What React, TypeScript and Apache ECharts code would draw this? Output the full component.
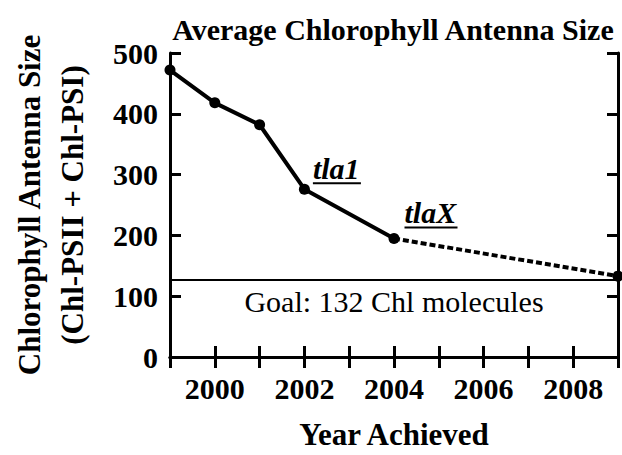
import React, { useEffect, useRef } from "react";
import * as echarts from "echarts";

const titleText = "Average Chlorophyll Antenna Size";
const yAxisTitle = "Chlorophyll Antenna Size\n(Chl-PSII + Chl-PSI)";
const xAxisTitle = "Year Achieved";
const achievedYears = [1999, 2000, 2001, 2002, 2004];
const achievedSizes = [472, 418, 382, 276, 195];
const projectedYears = [2004, 2009];
const projectedSizes = [195, 133];
const goalValue = 127;
const goalLabel = "Goal: 132 Chl molecules";
const pointNames: Record<number, string> = { 2002: "tla1", 2004: "tlaX" };
const xMin = 1999;
const xMax = 2009;
const yMin = 0;
const yMax = 500;

const FONT = "'Liberation Serif', 'Times New Roman', serif";

export default function App() {
  const ref = useRef<HTMLDivElement>(null);
  useEffect(() => {
    if (!ref.current) return;
    const chart = echarts.init(ref.current, null, { renderer: "svg" });

    const labelStyle: Record<string, any> = {
      tla1: { pos: [14, 1], w: 48 },
      tlaX: { pos: [16, -4], w: 53 },
    };

    const solidData = achievedYears.map((y, i) => {
      const name = pointNames[y];
      const item: any = { value: [y, achievedSizes[i]] };
      if (name) {
        const st = labelStyle[name];
        item.label = {
          show: true,
          position: st.pos,
          align: "left",
          verticalAlign: "bottom",
          formatter: `{t|${name}}\n{u|}`,
          rich: {
            t: {
              fontFamily: FONT,
              fontSize: 30,
              fontWeight: "bold",
              fontStyle: "italic",
              color: "#000",
              lineHeight: 26,
            },
            u: { width: st.w, height: 2, backgroundColor: "#000", lineHeight: 3 },
          },
        };
      }
      return item;
    });

    const dashedData = projectedYears.map((y, i) => ({
      value: [y, projectedSizes[i]],
      symbolSize: i === 0 ? 0 : 11,
    }));

    const axisLineStyle = { lineStyle: { color: "#000", width: 3 } };
    const tickStyle = { inside: true, length: 11, lineStyle: { color: "#000", width: 3 } };

    chart.setOption({
      animation: false,
      title: {
        text: titleText,
        left: 388,
        textAlign: "center",
        top: 9,
        textStyle: { fontFamily: FONT, fontSize: 30, fontWeight: "bold", color: "#000" },
      },
      grid: { left: 155, right: 4, top: 53, bottom: 88, containLabel: false },
      xAxis: [
        {
          type: "value",
          min: xMin,
          max: xMax,
          interval: 1,
          position: "bottom",
          name: xAxisTitle,
          nameLocation: "middle",
          nameGap: 62,
          nameTextStyle: { fontFamily: FONT, fontSize: 31, fontWeight: "bold", color: "#000" },
          axisLine: axisLineStyle,
          axisTick: tickStyle,
          splitLine: { show: false },
          axisLabel: {
            margin: 16,
            fontFamily: FONT,
            fontSize: 30,
            fontWeight: "bold",
            color: "#000",
            formatter: (v: number) => (v % 2 === 0 ? String(v) : ""),
          },
        },
        {
          type: "value",
          min: xMin,
          max: xMax,
          interval: 1,
          position: "top",
          axisLine: axisLineStyle,
          axisTick: tickStyle,
          splitLine: { show: false },
          axisLabel: { show: false },
        },
      ],
      yAxis: [
        {
          type: "value",
          min: yMin,
          max: yMax,
          interval: 100,
          position: "left",
          name: yAxisTitle,
          nameLocation: "middle",
          nameGap: 76,
          nameTextStyle: {
            fontFamily: FONT,
            fontSize: 31,
            fontWeight: "bold",
            color: "#000",
            lineHeight: 43,
          },
          axisLine: axisLineStyle,
          axisTick: tickStyle,
          splitLine: { show: false },
          axisLabel: {
            margin: 12,
            fontFamily: FONT,
            fontSize: 30,
            fontWeight: "bold",
            color: "#000",
          },
        },
        {
          type: "value",
          min: yMin,
          max: yMax,
          interval: 100,
          position: "right",
          axisLine: axisLineStyle,
          axisTick: tickStyle,
          splitLine: { show: false },
          axisLabel: { show: false },
        },
      ],
      series: [
        {
          type: "line",
          data: solidData,
          symbol: "circle",
          symbolSize: 11,
          itemStyle: { color: "#000" },
          lineStyle: { color: "#000", width: 4 },
          z: 3,
          markLine: {
            silent: true,
            symbol: "none",
            lineStyle: { color: "#000", width: 2, type: "solid" },
            label: {
              show: true,
              position: "insideMiddleBottom",
              formatter: goalLabel,
              fontFamily: FONT,
              fontSize: 30,
              color: "#000",
              distance: 7,
            },
            data: [{ yAxis: goalValue }],
          },
        },
        {
          type: "line",
          data: dashedData,
          symbol: "circle",
          itemStyle: { color: "#000" },
          lineStyle: { color: "#000", width: 4, type: [6, 3] },
          z: 2,
        },
      ],
    });
    return () => chart.dispose();
  }, []);
  return <div ref={ref} style={{ width: 622, height: 455, position: "absolute", left: 0, top: 0 }} />;
}
